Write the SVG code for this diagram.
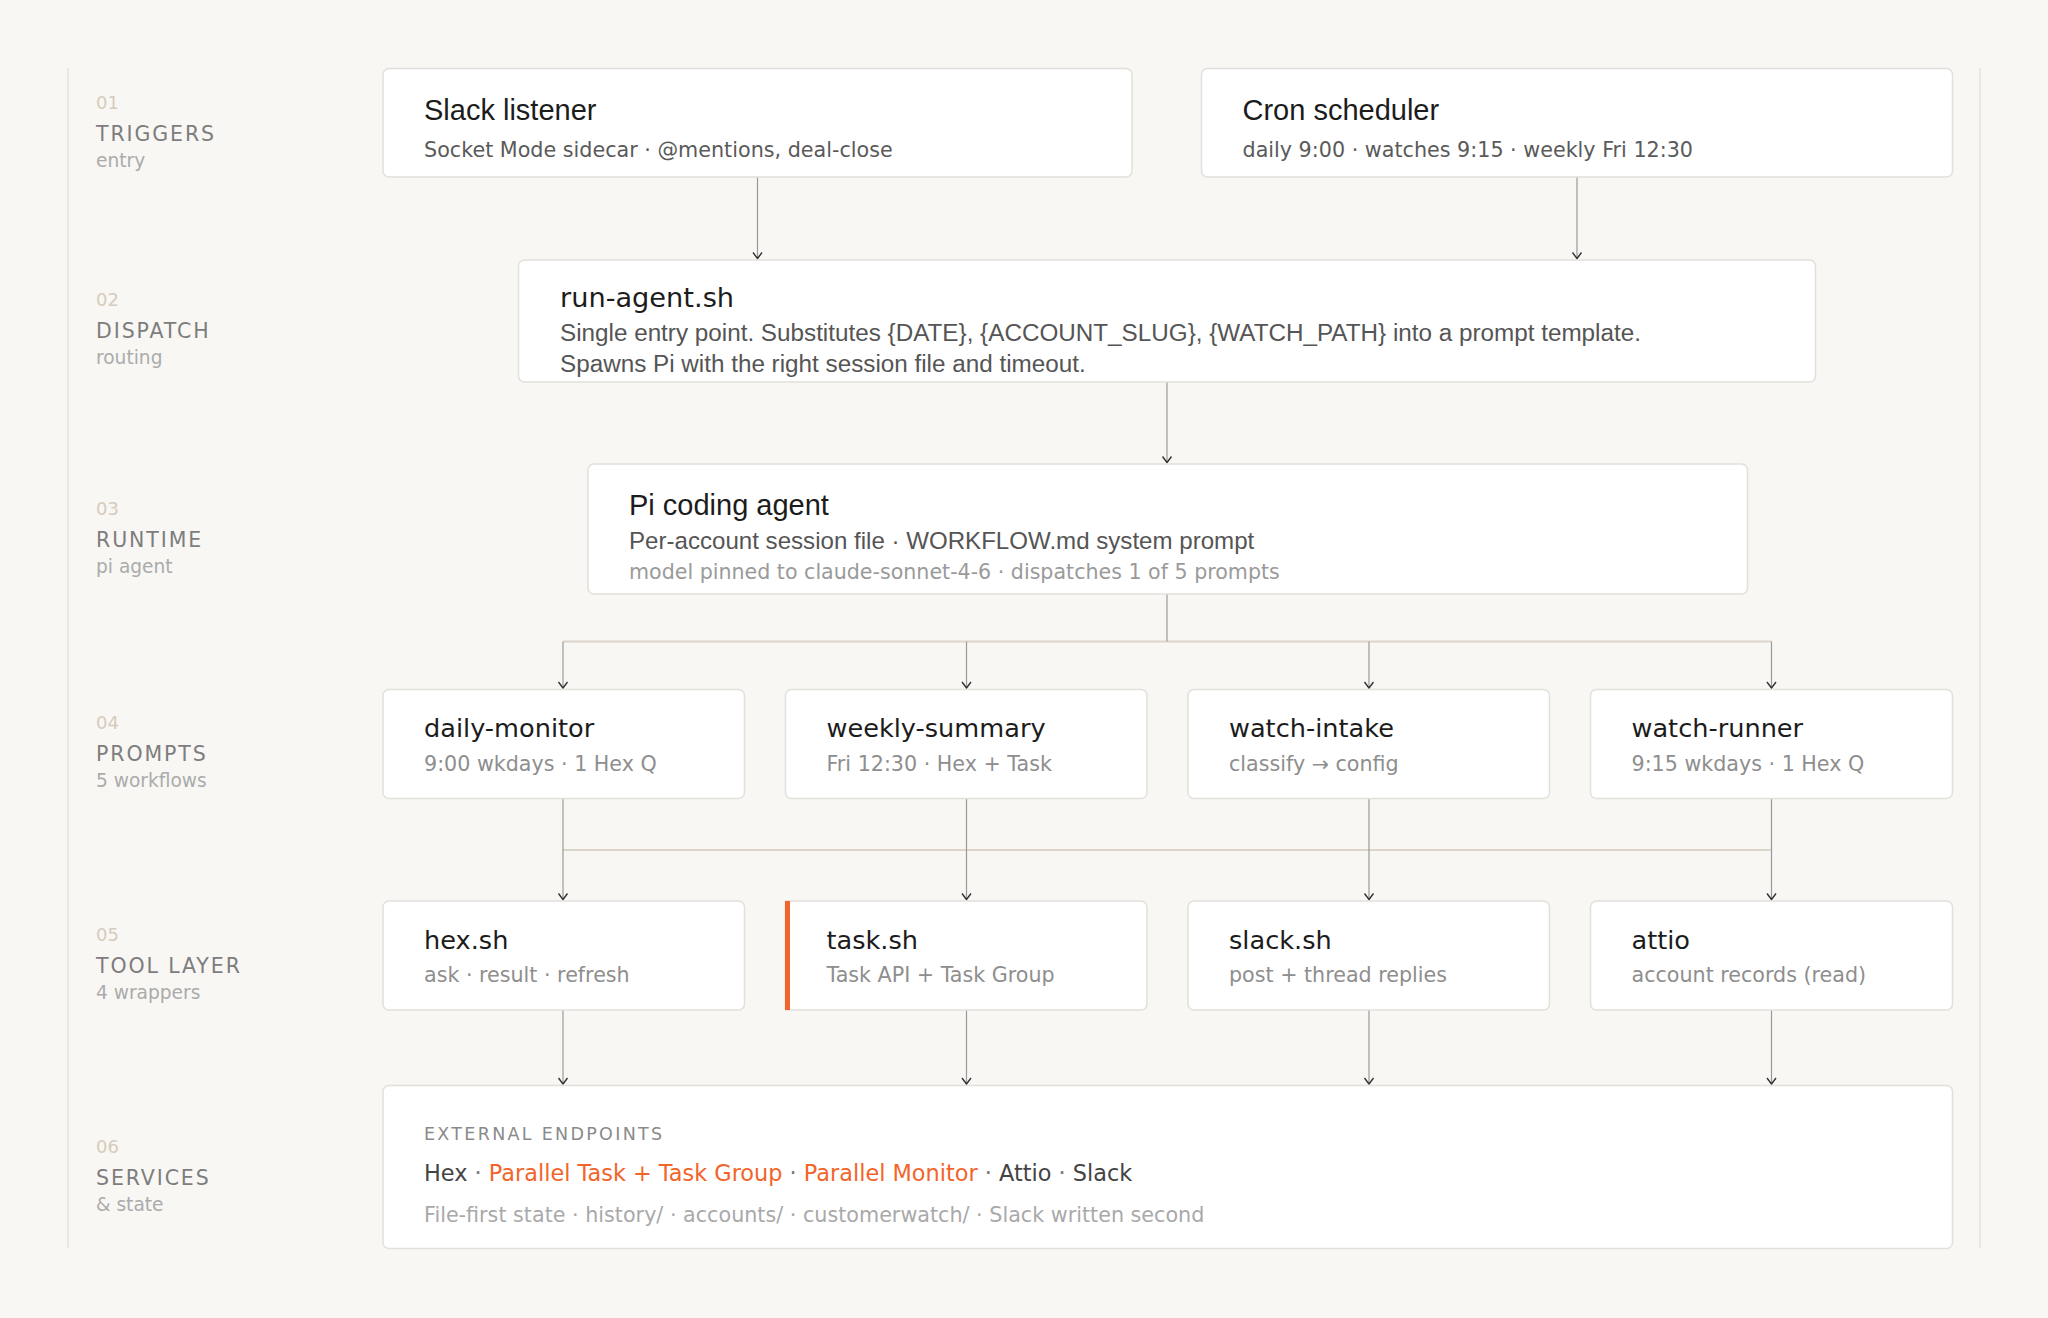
<svg xmlns="http://www.w3.org/2000/svg" width="2048" height="1318" viewBox="0 0 2048 1318">
<defs>
<style>
.bg{fill:#f8f7f4}
.rule{stroke:#e6e3de;stroke-width:1.5;fill:none}
.box{fill:#ffffff;stroke:#e2e0db;stroke-width:1.5}
.lnum{font-family:"DejaVu Sans",sans-serif;font-size:18px;fill:#d6cbbc}
.lname{font-family:"DejaVu Sans",sans-serif;font-size:20.5px;fill:#7d7d7d;letter-spacing:1.9px}
.lsub{font-family:"DejaVu Sans",sans-serif;font-size:18.6px;fill:#ababab}
.t1{font-family:"Liberation Sans",Arial,sans-serif;font-size:29px;fill:#1c1c1c}
.t2{font-family:"DejaVu Sans",sans-serif;font-size:25.6px;fill:#1c1c1c}
.s1{font-family:"DejaVu Sans",sans-serif;font-size:20.7px;fill:#5a5a5a}
.s1l{font-family:"Liberation Sans",Arial,sans-serif;font-size:24.25px;fill:#555555}
.s2{font-family:"DejaVu Sans",sans-serif;font-size:20.65px;fill:#8e8e8e}
.s3{font-family:"DejaVu Sans",sans-serif;font-size:20.7px;fill:#a9a9a9}
.cap{font-family:"DejaVu Sans",sans-serif;font-size:17.5px;fill:#8a8a8a;letter-spacing:2.3px}
.ep{font-family:"DejaVu Sans",sans-serif;font-size:22.4px;fill:#444444}
.or{fill:#f2652a}
.dot{fill:#777777}
.ln{stroke:#9a9a9a;stroke-width:1.2;fill:none}
.ar{marker-end:url(#ah)}
.bus{stroke:#dcd5c9;stroke-width:2;fill:none}
</style>
<marker id="ah" viewBox="-8 -6 10 12" markerWidth="10" markerHeight="12" refX="0" refY="0" orient="auto" markerUnits="userSpaceOnUse">
<path d="M-6,-4.5 L0,0 L-6,4.5" fill="none" stroke="#333333" stroke-width="1.4"/>
</marker>
</defs>
<rect class="bg" x="0" y="0" width="2048" height="1318"/>
<g id="rules">
<line class="rule" x1="68" y1="68" x2="68" y2="1248"/>
<line class="rule" x1="1980" y1="68" x2="1980" y2="1248"/>
</g>
<g id="layer-labels">
<text class="lnum" x="96" y="109">01</text><text class="lname" x="96" y="140.5">TRIGGERS</text><text class="lsub" x="96" y="167">entry</text>
<text class="lnum" x="96" y="306">02</text><text class="lname" x="96" y="337.5">DISPATCH</text><text class="lsub" x="96" y="364">routing</text>
<text class="lnum" x="96" y="515">03</text><text class="lname" x="96" y="546.5">RUNTIME</text><text class="lsub" x="96" y="573">pi agent</text>
<text class="lnum" x="96" y="729">04</text><text class="lname" x="96" y="760.5">PROMPTS</text><text class="lsub" x="96" y="787">5 workflows</text>
<text class="lnum" x="96" y="941">05</text><text class="lname" x="96" y="972.5">TOOL LAYER</text><text class="lsub" x="96" y="999">4 wrappers</text>
<text class="lnum" x="96" y="1153">06</text><text class="lname" x="96" y="1184.5">SERVICES</text><text class="lsub" x="96" y="1211">&amp; state</text>
</g>
<g id="connectors">
<path class="bus" d="M563,641.5 H1771.5"/>
<path class="bus" d="M563,850 H1771.5"/>
<path class="ln ar" d="M757.5,177 V258.5"/>
<path class="ln ar" d="M1577,177 V258.5"/>
<path class="ln ar" d="M1167,382 V462.5"/>
<path class="ln" d="M1167,594 V641.5"/>
<path class="ln ar" d="M563,641.5 V688"/>
<path class="ln ar" d="M966.5,641.5 V688"/>
<path class="ln ar" d="M1369,641.5 V688"/>
<path class="ln ar" d="M1771.5,641.5 V688"/>
<path class="ln ar" d="M563,798.5 V899.5"/>
<path class="ln ar" d="M966.5,798.5 V899.5"/>
<path class="ln ar" d="M1369,798.5 V899.5"/>
<path class="ln ar" d="M1771.5,798.5 V899.5"/>
<path class="ln ar" d="M563,1010 V1084"/>
<path class="ln ar" d="M966.5,1010 V1084"/>
<path class="ln ar" d="M1369,1010 V1084"/>
<path class="ln ar" d="M1771.5,1010 V1084"/>
</g>
<g id="slack-listener">
<rect class="box" x="383" y="68.5" width="749" height="108.5" rx="6"/>
<text class="t1" x="424" y="120">Slack listener</text>
<text class="s1" x="424" y="157">Socket Mode sidecar · @mentions, deal-close</text>
</g>
<g id="cron-scheduler">
<rect class="box" x="1201.5" y="68.5" width="751" height="108.5" rx="6"/>
<text class="t1" x="1242.5" y="120">Cron scheduler</text>
<text class="s1" x="1242.5" y="157">daily 9:00 · watches 9:15 · weekly Fri 12:30</text>
</g>
<g id="run-agent">
<rect class="box" x="518.5" y="260" width="1297" height="122" rx="6"/>
<text class="t2" x="560" y="307" style="font-size:27.2px">run-agent.sh</text>
<text class="s1l" x="560" y="341">Single entry point. Substitutes {DATE}, {ACCOUNT_SLUG}, {WATCH_PATH} into a prompt template.</text>
<text class="s1l" x="560" y="372">Spawns Pi with the right session file and timeout.</text>
</g>
<g id="pi-agent">
<rect class="box" x="588" y="464" width="1159.5" height="130" rx="6"/>
<text class="t1" x="629" y="515">Pi coding agent</text>
<text class="s1l" x="629" y="548.5" style="font-size:24.1px">Per-account session file · WORKFLOW.md system prompt</text>
<text class="s2" x="629" y="578.5" style="fill:#9a9a9a;font-size:20.6px">model pinned to claude-sonnet-4-6 · dispatches 1 of 5 prompts</text>
</g>
<g id="daily-monitor">
<rect class="box" x="383" y="689.5" width="361.5" height="109" rx="6"/>
<text class="t2" x="424" y="737">daily-monitor</text>
<text class="s2" x="424" y="770.5">9:00 wkdays · 1 Hex Q</text>
</g>
<g id="weekly-summary">
<rect class="box" x="785.5" y="689.5" width="361.5" height="109" rx="6"/>
<text class="t2" x="826.5" y="737">weekly-summary</text>
<text class="s2" x="826.5" y="770.5">Fri 12:30 · Hex + Task</text>
</g>
<g id="watch-intake">
<rect class="box" x="1188" y="689.5" width="361.5" height="109" rx="6"/>
<text class="t2" x="1229" y="737">watch-intake</text>
<text class="s2" x="1229" y="770.5">classify → config</text>
</g>
<g id="watch-runner">
<rect class="box" x="1590.5" y="689.5" width="362" height="109" rx="6"/>
<text class="t2" x="1631.5" y="737">watch-runner</text>
<text class="s2" x="1631.5" y="770.5">9:15 wkdays · 1 Hex Q</text>
</g>
<g id="hex-sh">
<rect class="box" x="383" y="901" width="361.5" height="109" rx="6"/>
<text class="t2" x="424" y="948.5">hex.sh</text>
<text class="s2" x="424" y="982">ask · result · refresh</text>
</g>
<g id="task-sh">
<path class="box" d="M785.5,901 H1141 A6,6 0 0 1 1147,907 V1004 A6,6 0 0 1 1141,1010 H785.5 Z"/>
<rect x="785" y="901" width="5" height="109" fill="#f2652a"/>
<text class="t2" x="826.5" y="948.5">task.sh</text>
<text class="s2" x="826.5" y="982">Task API + Task Group</text>
</g>
<g id="slack-sh">
<rect class="box" x="1188" y="901" width="361.5" height="109" rx="6"/>
<text class="t2" x="1229" y="948.5">slack.sh</text>
<text class="s2" x="1229" y="982">post + thread replies</text>
</g>
<g id="attio">
<rect class="box" x="1590.5" y="901" width="362" height="109" rx="6"/>
<text class="t2" x="1631.5" y="948.5">attio</text>
<text class="s2" x="1631.5" y="982">account records (read)</text>
</g>
<g id="services">
<rect class="box" x="383" y="1085.5" width="1569.5" height="163" rx="6"/>
<text class="cap" x="424" y="1140">EXTERNAL ENDPOINTS</text>
<text class="ep" x="424" y="1180.5">Hex <tspan class="dot">·</tspan> <tspan class="or">Parallel Task + Task Group</tspan> <tspan class="dot">·</tspan> <tspan class="or">Parallel Monitor</tspan> <tspan class="dot">·</tspan> Attio <tspan class="dot">·</tspan> Slack</text>
<text class="s3" x="424" y="1221.5">File-first state · history/ · accounts/ · customerwatch/ · Slack written second</text>
</g>
</svg>
